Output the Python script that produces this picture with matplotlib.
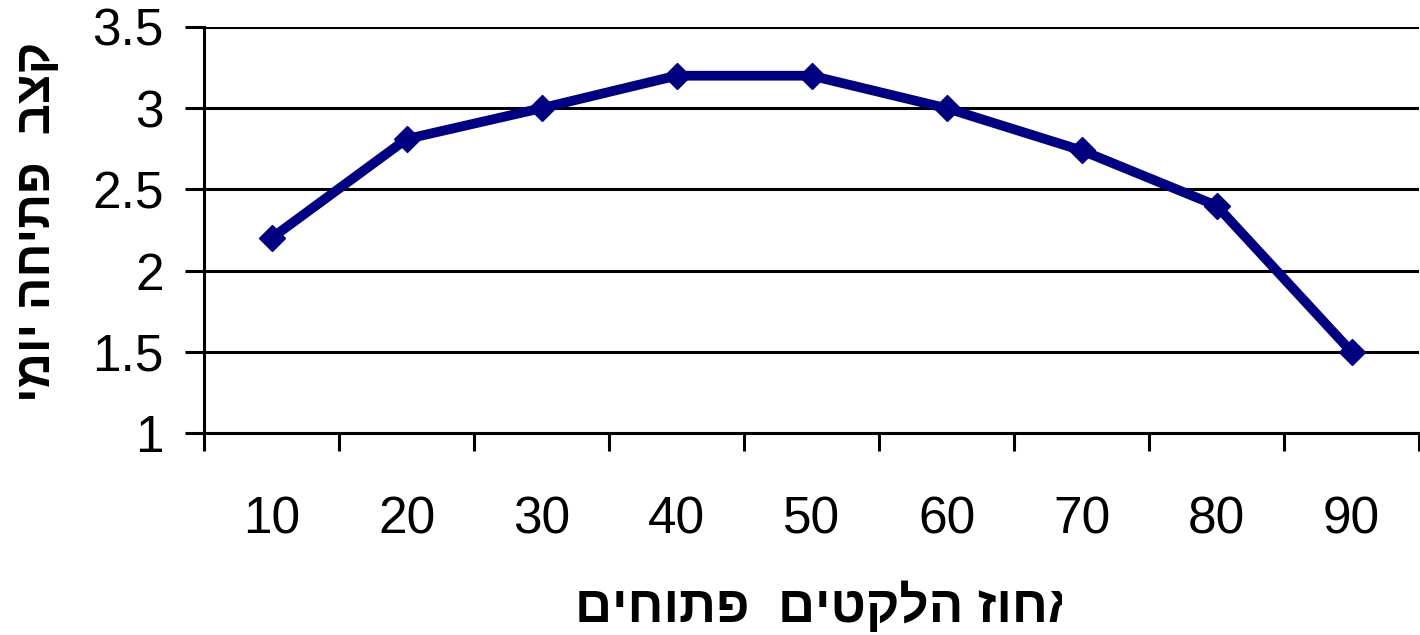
import numpy as np
import matplotlib
matplotlib.use("Agg")
import matplotlib.pyplot as plt
from matplotlib.transforms import Bbox, TransformedBbox

plt.rcParams["font.family"] = ["Liberation Sans", "DejaVu Sans"]

# data
categories = ["10", "20", "30", "40", "50", "60", "70", "80", "90"]
rate = [2.2, 2.81, 3.0, 3.2, 3.2, 3.0, 2.74, 2.4, 1.5]
yticks = [1, 1.5, 2, 2.5, 3, 3.5]
ytick_labels = ["1", "1.5", "2", "2.5", "3", "3.5"]

# Hebrew labels (logical order); matplotlib has no bidi, so reverse for display
ylabel_he = "קצב  פתיחה יומי"
xlabel_he = "אחוז הלקטים  פתוחים"

NAVY = "#000080"

fig = plt.figure(figsize=(14.2, 6.35), dpi=100)
ax = fig.add_axes([204 / 1420, 1 - 433 / 635, 1 - 204 / 1420 - 0.0007, (433 - 27) / 635])

x = np.arange(len(categories))
ax.plot(x, rate, color=NAVY, lw=7, marker="D", ms=13, mfc=NAVY, mec=NAVY,
        zorder=3, clip_on=False)

ax.set_xlim(-0.5, len(categories) - 0.5)
ax.set_ylim(1, 3.5)

# y axis
ax.set_yticks(yticks)
ax.set_yticklabels(ytick_labels)
ax.tick_params(axis="y", direction="out", length=14, width=2.2, pad=15,
               labelsize=37, color="black")
ax.grid(axis="y", color="black", lw=2.2)
ax.set_axisbelow(True)

# x axis: ticks between categories, labels under category centres
ax.set_xticks(np.arange(len(categories) + 1) - 0.5)
ax.set_xticklabels([])
ax.set_xticks(x, minor=True)
ax.set_xticklabels(categories, minor=True)
ax.tick_params(axis="x", which="major", direction="out", length=13, width=2.2)
ax.tick_params(axis="x", which="minor", length=0, pad=45, labelsize=37)

for side in ["top", "right"]:
    ax.spines[side].set_visible(False)
for side in ["left", "bottom"]:
    ax.spines[side].set_linewidth(2.2)

fig.text(38 / 1420, 1 - 222 / 635, ylabel_he[::-1], rotation=90, ha="center",
         va="center", fontsize=35, fontweight="bold")

t = fig.text(575 / 1420, 1 - 607 / 635, xlabel_he[::-1], ha="left", va="center",
             fontsize=37, fontweight="bold")
t.set_clip_box(TransformedBbox(Bbox([[0, 0], [1062 / 1420, 1]]), fig.transFigure))
t.set_clip_on(True)

fig.savefig("out.png", dpi=100, facecolor="white")
